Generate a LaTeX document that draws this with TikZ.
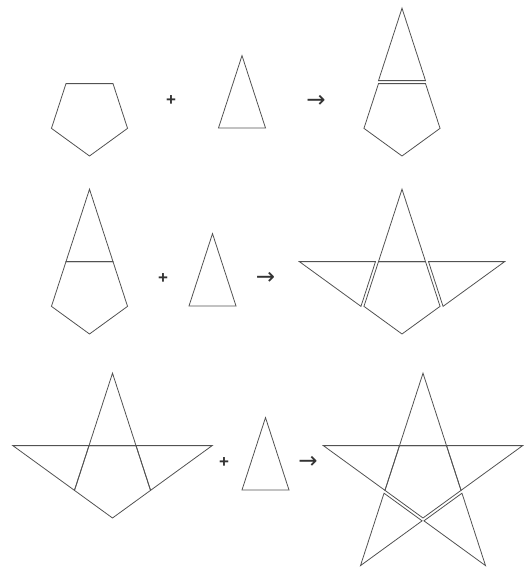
\documentclass[tikz,border=0pt]{standalone}
\usepackage{fontspec}
\newfontfamily\signfont{Liberation Sans}
\newfontfamily\arrowfont{DejaVu Sans}
\tikzset{
    shapeline/.style={draw=black!68, line width=0.8pt},
    plussign/.style={text=black!80, font=\signfont\bfseries\fontsize{17}{17}\selectfont},
    arrowsign/.style={text=black!80, font=\arrowfont\fontsize{23}{23}\selectfont}
}
\newcommand{\Rp}{40}
\newcommand{\Hs}{104.8}
% pentagon around a centre, point down
\newcommand{\pentagon}[1]{\draw[shapeline, shift={(#1)}]
    (270:\Rp) -- (342:\Rp) -- (54:\Rp) -- (126:\Rp) -- (198:\Rp) -- cycle;}
% golden triangle on the side facing #2, moved by the vector #3
\newcommand{\spike}[3]{\draw[shapeline, shift={(#1)}, shift={(#3)}]
    ({#2+36}:\Rp) -- (#2:\Hs) -- ({#2-36}:\Rp) -- cycle;}
\begin{document}
\begin{tikzpicture}[x=1pt, y=1pt]
    \useasboundingbox (0,0) rectangle (523,570);

    % first row
    \coordinate (pentA) at (89.5,454);
    \coordinate (triA) at (242,409.6);
    \coordinate (starA) at (402,454);
    \node[plussign] (plusA) at (171,469) {+};
    \node[arrowsign] (arrowA) at (316,469) {→};
    \pentagon{pentA}
    \spike{triA}{90}{0,0}
    \pentagon{starA}
    \spike{starA}{90}{90:3}

    % second row
    \coordinate (pentB) at (89.5,276);
    \coordinate (triB) at (212.5,231.6);
    \coordinate (starB) at (402,276);
    \node[plussign] (plusB) at (163,291) {+};
    \node[arrowsign] (arrowB) at (265.5,292) {→};
    \pentagon{pentB}
    \spike{pentB}{90}{0,0}
    \spike{triB}{90}{0,0}
    \pentagon{starB}
    \spike{starB}{90}{0,0}
    \spike{starB}{162}{180:3}
    \spike{starB}{18}{0:3}

    % third row
    \coordinate (pentC) at (112.5,92);
    \coordinate (triC) at (265.5,47.6);
    \coordinate (starC) at (423,92);
    \node[plussign] (plusC) at (224,107) {+};
    \node[arrowsign] (arrowC) at (308,108) {→};
    \pentagon{pentC}
    \foreach \a in {90,162,18}
        \spike{pentC}{\a}{0,0};
    \spike{triC}{90}{0,0}
    \pentagon{starC}
    \foreach \a in {90,162,18}
        \spike{starC}{\a}{0,0};
    \spike{starC}{234}{252:3}
    \spike{starC}{306}{288:3}
\end{tikzpicture}
\end{document}
